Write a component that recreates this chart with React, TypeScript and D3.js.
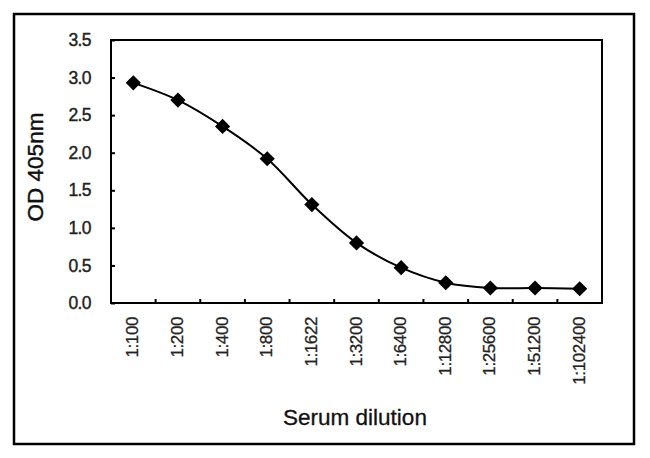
import { useEffect, useRef } from "react";
import * as d3 from "d3";

const dilutions = ["1:100", "1:200", "1:400", "1:800", "1:1622", "1:3200", "1:6400", "1:12800", "1:25600", "1:51200", "1:102400"];
const odValues = [2.93, 2.70, 2.35, 1.92, 1.31, 0.8, 0.47, 0.27, 0.2, 0.2, 0.19];
const yTicks = [0, 0.5, 1.0, 1.5, 2.0, 2.5, 3.0, 3.5];

const width = 650;
const height = 458;
const marginTop = 40;
const marginRight = 48;
const marginBottom = 155;
const marginLeft = 111;
const font = "Arial, 'Liberation Sans', sans-serif";

export default function App() {
  const svgRef = useRef<SVGSVGElement>(null);

  useEffect(() => {
    const svg = d3.select(svgRef.current);
    svg.selectAll("*").remove();

    // x scale: one band per dilution, ticks on band edges
    const x = d3.scaleBand()
      .domain(dilutions)
      .range([marginLeft, width - marginRight])
      .padding(0);

    const y = d3.scaleLinear()
      .domain([0, 3.5])
      .range([height - marginBottom, marginTop]);

    // outer frame
    svg.append("rect")
      .attr("x", 14)
      .attr("y", 14)
      .attr("width", 620)
      .attr("height", 430)
      .attr("fill", "white")
      .attr("stroke", "black")
      .attr("stroke-width", 2.5);

    // plot frame
    svg.append("rect")
      .attr("x", marginLeft)
      .attr("y", marginTop)
      .attr("width", width - marginRight - marginLeft)
      .attr("height", height - marginBottom - marginTop)
      .attr("fill", "white")
      .attr("stroke", "black")
      .attr("stroke-width", 2);

    // y ticks (inside) and labels
    const yAxis = svg.append("g")
      .attr("transform", `translate(${marginLeft},0)`)
      .call(d3.axisLeft(y).tickValues(yTicks).tickSize(-4).tickPadding(20).tickFormat(d3.format(".1f")));
    yAxis.select(".domain").remove();
    yAxis.selectAll("line").attr("stroke", "black").attr("stroke-width", 2);
    yAxis.selectAll("text")
      .attr("font-family", font)
      .attr("font-size", 17.5)
      .attr("letter-spacing", -0.6)
      .attr("fill", "#222")
      .attr("stroke", "#222")
      .attr("stroke-width", 0.4);

    // x ticks on band boundaries
    const edges = dilutions.slice(1).map((d) => x(d) as number);
    svg.append("g")
      .selectAll("line")
      .data(edges)
      .join("line")
      .attr("x1", (d) => d)
      .attr("x2", (d) => d)
      .attr("y1", y(0))
      .attr("y2", y(0) - 4)
      .attr("stroke", "black")
      .attr("stroke-width", 2);

    // x labels, rotated
    svg.append("g")
      .selectAll("text")
      .data(dilutions)
      .join("text")
      .attr("transform", (d) => `translate(${(x(d) as number) + x.bandwidth() / 2 + 5},${y(0) + 14}) rotate(-90)`)
      .attr("text-anchor", "end")
      .attr("font-family", font)
      .attr("font-size", 17)
      .attr("letter-spacing", -0.4)
      .attr("fill", "#222")
      .attr("stroke", "#222")
      .attr("stroke-width", 0.3)
      .text((d) => d);

    // line
    const line = d3.line<number>()
      .x((_, i) => (x(dilutions[i]) as number) + x.bandwidth() / 2)
      .y((d) => y(d))
      .curve(d3.curveCatmullRom.alpha(0.5));

    svg.append("path")
      .datum(odValues)
      .attr("d", line)
      .attr("fill", "none")
      .attr("stroke", "black")
      .attr("stroke-width", 2);

    // diamond markers
    svg.append("g")
      .selectAll("path")
      .data(odValues)
      .join("path")
      .attr("d", d3.symbol(d3.symbolSquare, 115))
      .attr("transform", (d, i) => `translate(${(x(dilutions[i]) as number) + x.bandwidth() / 2},${y(d)}) rotate(45)`)
      .attr("fill", "black");

    // axis titles
    svg.append("text")
      .attr("transform", `translate(43,167) rotate(-90)`)
      .attr("text-anchor", "middle")
      .attr("font-family", font)
      .attr("font-size", 22.5)
      .attr("fill", "#111")
      .attr("stroke", "#111")
      .attr("stroke-width", 0.4)
      .text("OD 405nm");

    svg.append("text")
      .attr("x", 355)
      .attr("y", 425)
      .attr("text-anchor", "middle")
      .attr("font-family", font)
      .attr("font-size", 22.5)
      .attr("fill", "#111")
      .attr("stroke", "#111")
      .attr("stroke-width", 0.3)
      .text("Serum dilution");
  }, []);

  return (
    <svg
      ref={svgRef}
      width={width}
      height={height}
      style={{ position: "absolute", left: 0, top: 0, background: "white" }}
    />
  );
}
